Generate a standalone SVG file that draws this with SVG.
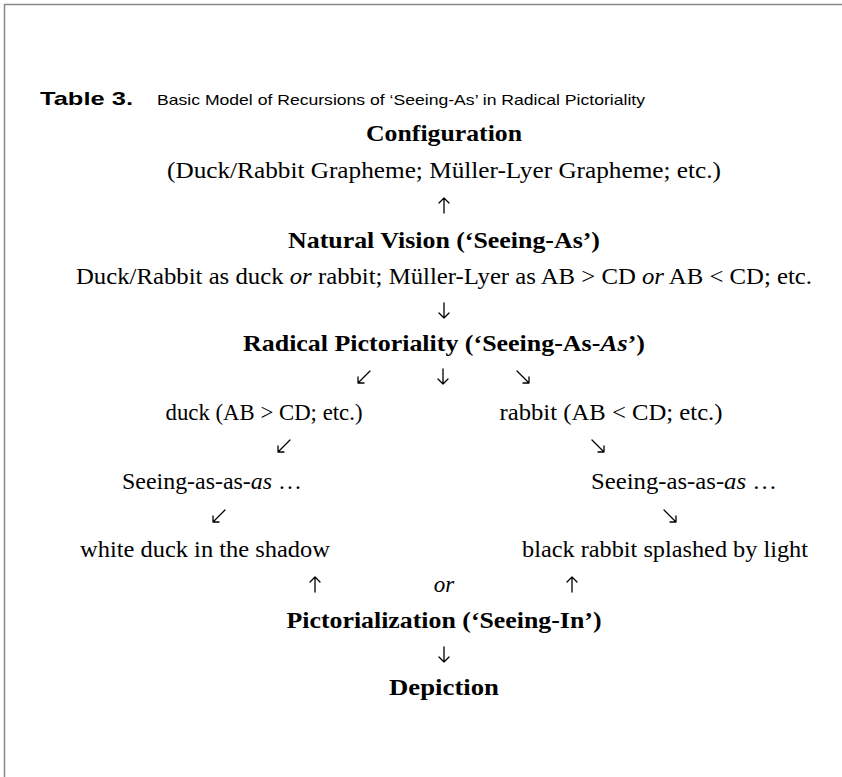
<svg xmlns="http://www.w3.org/2000/svg" width="842" height="777" viewBox="0 0 842 777">
<style>
.t{font-family:"Liberation Serif","Times New Roman",serif;font-size:23px;fill:#000;text-anchor:middle}
.b{font-weight:bold}
.i{font-style:italic}
.a{fill:none;stroke:#000;stroke-width:1.3;stroke-linecap:round;stroke-linejoin:round}
</style>
<rect width="842" height="777" fill="#fff"/>
<path d="M4.5,777 V4.5 H842" fill="none" stroke="#8a8a8a" stroke-width="1.5"/>
<g id="title">
<text x="40" y="105" font-family="'Liberation Sans',Arial,sans-serif" font-size="19" font-weight="bold" textLength="93" lengthAdjust="spacingAndGlyphs">Table 3.</text>
<text x="157" y="105" font-family="'Liberation Sans',Arial,sans-serif" font-size="15" textLength="488" lengthAdjust="spacingAndGlyphs">Basic Model of Recursions of ‘Seeing-As’ in Radical Pictoriality</text>
</g>
<g id="configuration">
<text class="t b" x="444" y="141" textLength="156" lengthAdjust="spacingAndGlyphs">Configuration</text>
<text class="t" x="444" y="178" textLength="554" lengthAdjust="spacingAndGlyphs">(Duck/Rabbit Grapheme; Müller-Lyer Grapheme; etc.)</text>
</g>
<g id="natural-vision">
<text class="t b" x="444" y="248" textLength="312" lengthAdjust="spacingAndGlyphs">Natural Vision (‘Seeing-As’)</text>
<text class="t" x="444" y="284" textLength="736" lengthAdjust="spacingAndGlyphs">Duck/Rabbit as duck <tspan class="i">or</tspan> rabbit; Müller-Lyer as AB &gt; CD <tspan class="i">or</tspan> AB &lt; CD; etc.</text>
</g>
<g id="radical-pictoriality">
<text class="t b" x="444" y="351" textLength="402" lengthAdjust="spacingAndGlyphs">Radical Pictoriality (‘Seeing-As-<tspan class="i">As</tspan>’)</text>
</g>
<g id="duck">
<text class="t" x="264" y="420" textLength="197" lengthAdjust="spacingAndGlyphs">duck (AB &gt; CD; etc.)</text>
</g>
<g id="rabbit">
<text class="t" x="611" y="420" textLength="223" lengthAdjust="spacingAndGlyphs">rabbit (AB &lt; CD; etc.)</text>
</g>
<g id="seeing-left">
<text class="t" x="212" y="489" textLength="180" lengthAdjust="spacingAndGlyphs">Seeing-as-as-<tspan class="i">as</tspan> …</text>
</g>
<g id="seeing-right">
<text class="t" x="684" y="489" textLength="186" lengthAdjust="spacingAndGlyphs">Seeing-as-as-<tspan class="i">as</tspan> …</text>
</g>
<g id="white-duck">
<text class="t" x="205" y="557" textLength="250" lengthAdjust="spacingAndGlyphs">white duck in the shadow</text>
</g>
<g id="black-rabbit">
<text class="t" x="665" y="557" textLength="286" lengthAdjust="spacingAndGlyphs">black rabbit splashed by light</text>
</g>
<g id="pictorialization">
<text class="t b" x="444" y="628" textLength="315" lengthAdjust="spacingAndGlyphs">Pictorialization (‘Seeing-In’)</text>
</g>
<g id="depiction">
<text class="t b" x="444" y="695" textLength="110" lengthAdjust="spacingAndGlyphs">Depiction</text>
</g>
<g id="connectors">
<path class="a" d="M444,213 V198 M439,203 L444,198 L449,203"/>
<path class="a" d="M444,303 V318 M439,313 L444,318 L449,313"/>
<path class="a" d="M370,371 L358,383 M358,377 V383 H364"/>
<path class="a" d="M443,369 V384 M438,379 L443,384 L448,379"/>
<path class="a" d="M517,371 L529,383 M529,377 V383 H523"/>
<path class="a" d="M290,440 L278,452 M278,446 V452 H284"/>
<path class="a" d="M592,440 L604,452 M604,446 V452 H598"/>
<path class="a" d="M225,510 L213,522 M213,516 V522 H219"/>
<path class="a" d="M664,510 L676,522 M676,516 V522 H670"/>
<path class="a" d="M315,592 V577 M310,582 L315,577 L320,582"/>
<path class="a" d="M572,592 V577 M567,582 L572,577 L577,582"/>
<text class="t i" x="444" y="592">or</text>
<path class="a" d="M444,647 V662 M439,657 L444,662 L449,657"/>
</g>
</svg>
